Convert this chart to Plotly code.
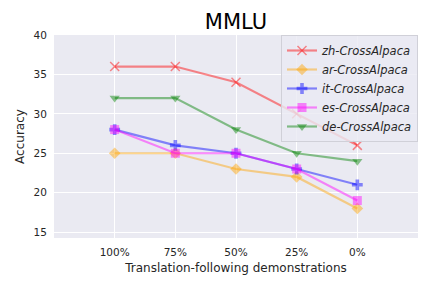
import plotly.graph_objects as go

categories = ["100%", "75%", "50%", "25%", "0%"]
series_names = ["zh-CrossAlpaca", "ar-CrossAlpaca", "it-CrossAlpaca", "es-CrossAlpaca", "de-CrossAlpaca"]
zh = [36, 36, 34, 30, 26]
ar = [25, 25, 23, 22, 18]
it = [28, 26, 25, 23, 21]
es = [28, 25, 25, 23, 19]
de = [32, 32, 28, 25, 24]
values = [zh, ar, it, es, de]
y_ticks = [15, 20, 25, 30, 35, 40]

colors = ["rgba(255,0,0,0.45)", "rgba(255,165,0,0.45)", "rgba(0,0,255,0.45)",
          "rgba(255,0,255,0.45)", "rgba(0,128,0,0.45)"]
symbols = ["x-thin", "diamond", "cross", "square", "triangle-down"]

xs = list(range(len(categories)))
fig = go.Figure()
for name, vals, c, s in zip(series_names, values, colors, symbols):
    marker = dict(symbol=s, size=9, color=c)
    if s == "x-thin":
        marker.update(line=dict(color=c, width=1.5), size=9)
    fig.add_trace(go.Scatter(x=xs, y=vals, mode="lines+markers", name=name,
                             line=dict(color=c, width=2.2), marker=marker))

fig.update_layout(
    width=432, height=288,
    margin=dict(l=54, r=14, t=35, b=50),
    paper_bgcolor="white", plot_bgcolor="#EAEAF2",
    font=dict(family="DejaVu Sans", color="#262626", size=10.5),
    title=dict(text="MMLU", x=0.5, xref="paper", xanchor="center",
               y=1 - 22 / 288, yref="container", yanchor="middle",
               font=dict(size=21, color="black")),
    legend=dict(x=1.0, xanchor="right", y=1.0, yanchor="top",
                bgcolor="rgba(234,234,242,0.8)", bordercolor="#D0D0D8", borderwidth=1,
                font=dict(size=11.5, style="italic"), itemwidth=30, tracegroupgap=0),
    showlegend=True,
)
fig.update_xaxes(range=[-1, 5], tickvals=xs, ticktext=categories, showgrid=True,
                 gridcolor="white", gridwidth=1, zeroline=False, showline=False,
                 ticks="outside", ticklen=4, tickcolor="rgba(0,0,0,0)",
                 title=dict(text="Translation-following demonstrations", font=dict(size=12), standoff=7))
fig.update_yaxes(range=[14.25, 40], tickvals=y_ticks, showgrid=True, gridcolor="white",
                 gridwidth=1, zeroline=False, showline=False,
                 ticks="outside", ticklen=4, tickcolor="rgba(0,0,0,0)",
                 title=dict(text="Accuracy", font=dict(size=12), standoff=6))

fig.write_html("out.html", config={"displayModeBar": False},
               post_script="document.body.style.margin='0';")
